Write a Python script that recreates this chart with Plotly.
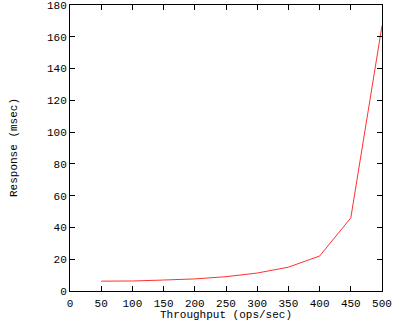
import plotly.graph_objects as go

throughput = [50, 100, 150, 200, 250, 300, 350, 400, 450, 500]
response = [6.2, 6.3, 6.9, 7.6, 9.0, 11.3, 15.0, 22.0, 46.0, 167.0]

x_ticks = [0, 50, 100, 150, 200, 250, 300, 350, 400, 450, 500]
y_ticks = [0, 20, 40, 60, 80, 100, 120, 140, 160, 180]

FONT = "Liberation Mono"

fig = go.Figure()
fig.add_trace(go.Scatter(x=throughput, y=response, mode="lines",
                         line=dict(color="#ff3030", width=1), showlegend=False,
                         hoverinfo="skip"))

axis_common = dict(showline=True, linecolor="black", linewidth=1, mirror="allticks",
                   ticks="inside", ticklen=5, tickwidth=1, tickcolor="black",
                   showgrid=False, zeroline=False, automargin=False,
                   ticklabeloverflow="allow",
                   tickfont=dict(family=FONT, size=11, color="black"))

fig.update_xaxes(range=[0, 500], tickvals=x_ticks, ticktext=[str(v) for v in x_ticks],
                 ticklabelstandoff=2, **axis_common)
fig.update_yaxes(range=[0, 180], tickvals=y_ticks, ticktext=[str(v) for v in y_ticks],
                 **axis_common)

fig.add_annotation(text="Throughput (ops/sec)", xref="paper", yref="paper",
                   x=0.5, y=0, yshift=-23.5, xanchor="center", yanchor="middle",
                   showarrow=False, font=dict(family=FONT, size=11, color="black"))
fig.add_annotation(text="Response (msec)", xref="paper", yref="paper",
                   x=0, xshift=-56, y=0.5, xanchor="center", yanchor="middle",
                   textangle=-90, showarrow=False,
                   font=dict(family=FONT, size=11, color="black"))

fig.update_layout(width=400, height=320,
                  margin=dict(l=70, r=18, t=5, b=29, autoexpand=False),
                  plot_bgcolor="white", paper_bgcolor="white",
                  font=dict(family=FONT, size=11, color="black"))

fig.write_html("out.html", config={"displayModeBar": False},
               post_script="document.body.style.margin='0';document.body.style.padding='0';")
